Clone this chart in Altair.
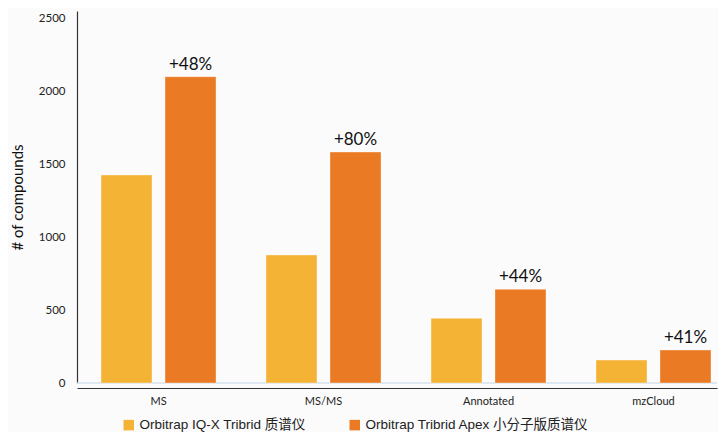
import altair as alt
import pandas as pd

categories = ["MS", "MS/MS", "Annotated", "mzCloud"]
series_names = ["Orbitrap IQ-X Tribrid 质谱仪", "Orbitrap Tribrid Apex 小分子版质谱仪"]
iqx_values = [1425, 877, 443, 157]
apex_values = [2098, 1582, 642, 226]
pct_labels = ["+48%", "+80%", "+44%", "+41%"]
y_ticks = [0, 500, 1000, 1500, 2000, 2500]
colors = ["#F5B335", "#EB7A24"]

rows = []
for c, a, b, p in zip(categories, iqx_values, apex_values, pct_labels):
    rows.append({"category": c, "series": series_names[0], "value": a, "label": ""})
    rows.append({"category": c, "series": series_names[1], "value": b, "label": p})
df = pd.DataFrame(rows)

x_enc = alt.X("category:N", sort=categories,
              scale=alt.Scale(paddingInner=0.303, paddingOuter=0.091, align=0.8),
              axis=alt.Axis(title=None, labelAngle=0, ticks=False, offset=5,
                            domainColor="#333333", domainWidth=1.2,
                            labelFont="Lato", labelFontSize=11, labelColor="#222222",
                            labelPadding=7))
xoff_enc = alt.XOffset("series:N", sort=series_names,
                       scale=alt.Scale(paddingInner=0.203, paddingOuter=0))
y_scale = alt.Scale(domain=[0, 2548], nice=False)

bars = alt.Chart(df).mark_bar(stroke="#ffffff", strokeOpacity=0.35, strokeWidth=1).encode(
    x=x_enc,
    xOffset=xoff_enc,
    y=alt.Y("value:Q", scale=y_scale,
            axis=alt.Axis(values=y_ticks, format="d", grid=False, ticks=False, title="# of compounds",
                          titleFont="Lato", titleFontSize=15, titleFontWeight="normal",
                          titleColor="#111111", titlePadding=13,
                          labelFont="Lato", labelFontSize=11.5, labelColor="#222222",
                          labelPadding=12, domainColor="#333333", domainWidth=1.2)),
    color=alt.Color("series:N", sort=series_names,
                    scale=alt.Scale(domain=series_names, range=colors),
                    legend=alt.Legend(title=None, orient="none", direction="horizontal",
                                      legendX=45, legendY=407,
                                      symbolType="square", symbolSize=110,
                                      symbolStrokeWidth=0, symbolOpacity=1,
                                      labelFont="Liberation Sans, Noto Sans CJK SC",
                                      labelFontSize=13.5, labelColor="#222222",
                                      columnPadding=42, labelLimit=400)),
)

base_rule = alt.Chart(pd.DataFrame({"v": [0]})).mark_rule(color="#d6e0ee", strokeWidth=1.5).encode(
    y=alt.Y("v:Q", scale=y_scale)
)

texts = alt.Chart(df).transform_filter("datum.label != ''").mark_text(
    baseline="bottom", dy=-3, font="Lato", fontSize=17, color="#111111"
).encode(
    x=alt.X("category:N", sort=categories),
    xOffset=alt.XOffset("series:N", sort=series_names),
    y=alt.Y("value:Q", scale=y_scale),
    text="label:N",
)

chart = alt.layer(base_rule, bars, texts).properties(
    width=640, height=372, background="#fbfbfb",
    padding={"top": 3, "left": 2, "right": 0, "bottom": 0}
).configure_view(stroke=None)

chart.save("out.html", embed_options={"renderer": "svg", "actions": False})
